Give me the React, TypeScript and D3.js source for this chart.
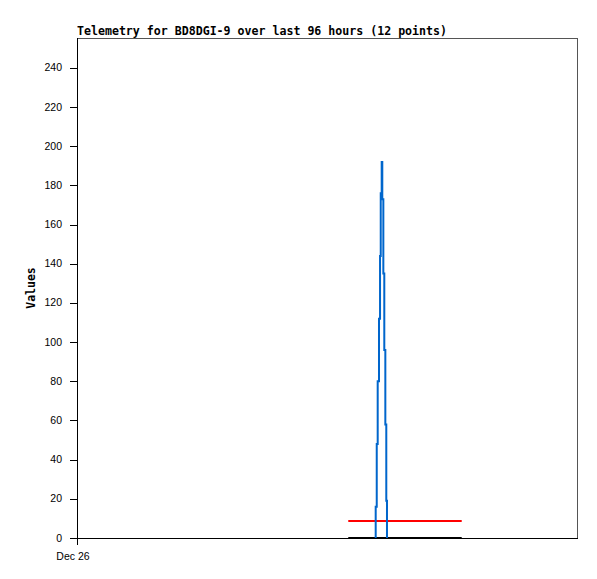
import * as d3 from "d3";

// Blue series: 12 telemetry points (time, value)
const blueTimes = [
  "2023-12-28T09:21", "2023-12-28T09:33", "2023-12-28T09:44", "2023-12-28T09:59",
  "2023-12-28T10:11", "2023-12-28T10:19", "2023-12-28T10:30", "2023-12-28T10:37",
  "2023-12-28T10:49", "2023-12-28T11:00", "2023-12-28T11:12", "2023-12-28T11:23",
];
const blueValues = [16, 48, 80, 112, 144, 176, 192, 173, 135, 96, 58, 19];
const blueEnd = "2023-12-28T11:31";

// Red and black flat series
const flatTimes = ["2023-12-28T04:05", "2023-12-29T01:52"];
const redValues = [8.7, 8.7];
const blackValues = [0, 0];

const startTime = "2023-12-26T00:00";
const spanHours = 96;
const yTicks = [0, 20, 40, 60, 80, 100, 120, 140, 160, 180, 200, 220, 240];
const xTickLabels = ["Dec 26"];

const W = 597;
const H = 579;
const left = 77;
const right = 577;
const top = 38;
const bottom = 538;

export default function App() {
  const t0 = new Date(startTime);
  const t1 = d3.timeHour.offset(t0, spanHours);
  const x = d3.scaleTime().domain([t0, t1]).range([left, right]);
  const y = d3.scaleLinear().domain([0, 255.3]).range([bottom, top]);

  type P = { t: Date; v: number };
  const blue: P[] = [
    { t: new Date(blueTimes[0]), v: 0 },
    ...blueTimes.map((s, i) => ({ t: new Date(s), v: blueValues[i] })),
    { t: new Date(blueEnd), v: 0 },
  ];
  const red: P[] = flatTimes.map((s, i) => ({ t: new Date(s), v: redValues[i] }));
  const black: P[] = flatTimes.map((s, i) => ({ t: new Date(s), v: blackValues[i] }));

  const stepLine = d3
    .line<P>()
    .x((d) => x(d.t))
    .y((d) => y(d.v))
    .curve(d3.curveStepAfter);
  const line = d3
    .line<P>()
    .x((d) => x(d.t))
    .y((d) => y(d.v));

  const mono = "'DejaVu Sans Mono', 'Liberation Mono', monospace";
  const sans = "'Liberation Sans', Arial, sans-serif";

  return (
    <div style={{ position: "fixed", left: 0, top: 0 }}>
      <svg width={W} height={H} style={{ display: "block", background: "#fff" }}>
        {/* frame top/right */}
        <rect
          x={left + 0.5}
          y={top + 0.5}
          width={right - left}
          height={bottom - top}
          fill="none"
          stroke="#555"
          strokeWidth={1}
          shapeRendering="crispEdges"
        />

        {/* series */}
        <path d={line(black) ?? ""} fill="none" stroke="#000" strokeWidth={2} />
        <path d={line(red) ?? ""} fill="none" stroke="#ff0000" strokeWidth={2} />
        <path d={stepLine(blue) ?? ""} fill="none" stroke="#0066cc" strokeWidth={2} />

        {/* axes */}
        <line x1={left + 0.5} x2={left + 0.5} y1={top} y2={bottom + 7} stroke="#000" shapeRendering="crispEdges" />
        <line x1={left} x2={right + 1} y1={bottom + 0.5} y2={bottom + 0.5} stroke="#000" shapeRendering="crispEdges" />

        {yTicks.map((v) => (
          <g key={v}>
            <line
              x1={left - 7}
              x2={left}
              y1={Math.round(y(v)) + 0.5}
              y2={Math.round(y(v)) + 0.5}
              stroke="#000"
              shapeRendering="crispEdges"
            />
            <text
              x={left - 15}
              y={y(v) + 3.5}
              textAnchor="end"
              fontFamily={sans}
              fontSize={10.5}
              fill="#000"
            >
              {v}
            </text>
          </g>
        ))}

        {xTickLabels.map((lbl) => (
          <text
            key={lbl}
            x={x(t0) - 4}
            y={560}
            textAnchor="middle"
            fontFamily={sans}
            fontSize={10.5}
            fill="#000"
          >
            {lbl}
          </text>
        ))}

        <text
          x={left}
          y={35}
          fontFamily={mono}
          fontWeight="bold"
          fontSize={11.5}
          textLength={370}
          lengthAdjust="spacingAndGlyphs"
          fill="#000"
        >
          Telemetry for BD8DGI-9 over last 96 hours (12 points)
        </text>
        <text
          transform={`translate(35, ${(top + bottom) / 2}) rotate(-90)`}
          textAnchor="middle"
          fontFamily={mono}
          fontWeight="bold"
          fontSize={11.5}
          fill="#000"
        >
          Values
        </text>
      </svg>
    </div>
  );
}
